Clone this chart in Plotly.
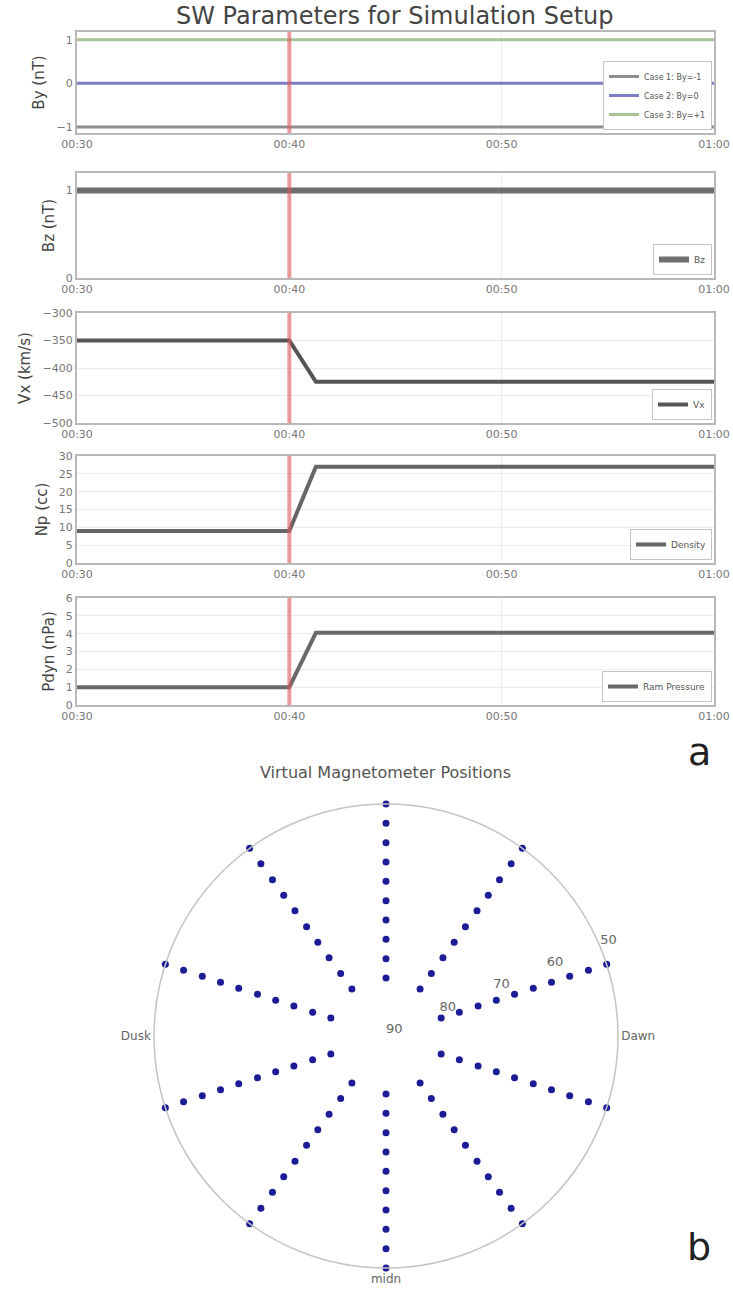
import plotly.graph_objects as go

W, H = 733, 1301

# ---- solar-wind driver (UT) ----
t_nodes = ["2000-01-01 00:30:00", "2000-01-01 00:40:00",
           "2000-01-01 00:41:15", "2000-01-01 01:00:00"]
t_ticks = ["2000-01-01 00:30", "2000-01-01 00:40",
           "2000-01-01 00:50", "2000-01-01 01:00"]
t_shock = "2000-01-01 00:40:00"

by_labels = ["Case 1: By=-1", "Case 2: By=0", "Case 3: By=+1"]
by_values = [-1, 0, 1]
by_colors = ["#8f8f8f", "#7c7cc4", "#a6c496"]
bz_values = [1, 1, 1, 1]
vx_values = [-350, -350, -425, -425]
np_values = [9, 9, 27, 27]
pdyn_values = [1.0, 1.0, 4.05, 4.05]

# ---- virtual magnetometer grid ----
mag_mlt = [7.2, 9.6, 12.0, 14.4, 16.8, 19.2, 21.6, 0.0, 2.4, 4.8]
mag_lat = [50.0, 53.3, 56.7, 60.0, 63.3, 66.7, 70.0, 73.3, 76.7, 80.0]
lat_ticks = [90, 80, 70, 60, 50]


def py(px):
    return 1 - px / H


def px_x(px):
    return px / W


X0, X1 = px_x(77), px_x(714)
panels = [  # (top px, bottom px)
    (32, 133), (173, 278), (313, 423), (456, 563), (598, 705)
]
ytitles = ["By (nT)", "Bz (nT)", "Vx (km/s)", "Np (cc)", "Pdyn (nPa)"]
yranges = [[-1.14, 1.18], [0, 1.2], [-500, -300], [0, 30], [0, 6]]
yticks = [[-1, 0, 1], [0, 1], [-500, -450, -400, -350, -300],
          [0, 5, 10, 15, 20, 25, 30], [0, 1, 2, 3, 4, 5, 6]]

fig = go.Figure()

# By cases
for lab, val, col in zip(by_labels, by_values, by_colors):
    fig.add_trace(go.Scatter(
        x=[t_nodes[0], t_nodes[-1]], y=[val, val], mode="lines",
        line=dict(color=col, width=3), name=lab,
        xaxis="x", yaxis="y", legend="legend"))

series = [(bz_values, "Bz", 6, "#6f6f6f"),
          (vx_values, "Vx", 4, "#555555"),
          (np_values, "Density", 4, "#666666"),
          (pdyn_values, "Ram Pressure", 4, "#6a6a6a")]
for k, (vals, name, w, col) in enumerate(series, start=2):
    fig.add_trace(go.Scatter(
        x=t_nodes, y=vals, mode="lines", name=name,
        line=dict(color=col, width=w),
        xaxis=f"x{k}", yaxis=f"y{k}", legend=f"legend{k}"))

layout = dict(
    width=W, height=H, margin=dict(l=0, r=0, t=0, b=0, autoexpand=False),
    paper_bgcolor="white", plot_bgcolor="white",
    font=dict(family="DejaVu Sans", color="#555"),
    showlegend=True,
)

shapes = []
for i, (top, bot) in enumerate(panels, start=1):
    sx = "" if i == 1 else str(i)
    layout[f"xaxis{sx}"] = dict(
        domain=[X0, X1], anchor=f"y{sx}", type="date", automargin=False,
        range=[t_nodes[0], t_nodes[-1]], tickvals=t_ticks,
        tickformat="%H:%M", showgrid=True, gridcolor="#ececec",
        showline=True, mirror=True, linecolor="#b8b8b8", linewidth=2,
        zeroline=False, ticks="", tickfont=dict(size=11, color="#777"))
    layout[f"yaxis{sx}"] = dict(
        domain=[py(bot), py(top)], anchor=f"x{sx}", automargin=False,
        range=yranges[i - 1], tickvals=yticks[i - 1],
        showgrid=True, gridcolor="#ececec", zeroline=False,
        showline=True, mirror=True, linecolor="#b8b8b8", linewidth=2,
        ticks="", tickfont=dict(size=11, color="#777"),
        title=dict(text=ytitles[i - 1], font=dict(size=15, color="#444"),
                   standoff=8))
    layout[f"legend{sx}"] = dict(
        x=X1 - 2 / W, y=py(bot) + 3 / H, xanchor="right", yanchor="bottom",
        bgcolor="white", bordercolor="#c4c4c4", borderwidth=1,
        font=dict(size=8 if i == 1 else 9, color="#555"),
        itemwidth=30, tracegroupgap=0)
    shapes.append(dict(
        type="line", xref=f"x{sx}", yref=f"y{sx} domain",
        x0=t_shock, x1=t_shock, y0=0, y1=1,
        line=dict(color="rgba(222,90,90,0.6)", width=4), layer="above"))
layout["shapes"] = shapes

# polar plot of the magnetometer stations (radius = colatitude)
theta = [(m - 6.0) * 15.0 for m in mag_mlt for _ in mag_lat]
rad = [90.0 - lat for _ in mag_mlt for lat in mag_lat]
fig.add_trace(go.Scatterpolar(
    r=rad, theta=theta, mode="markers", showlegend=False,
    marker=dict(size=7, color="rgb(28,28,150)"), subplot="polar"))

# latitude labels along the 22.5 degree ray
fig.add_trace(go.Scatterpolar(
    r=[90 - v for v in lat_ticks], theta=[22.5] * len(lat_ticks),
    text=[str(v) for v in lat_ticks], mode="text",
    textposition="top right", cliponaxis=False, showlegend=False,
    textfont=dict(size=13, color="#666"), hoverinfo="skip",
    subplot="polar"))

layout["polar"] = dict(
    domain=dict(x=[px_x(154), px_x(618)], y=[py(1268), py(804)]),
    bgcolor="white",
    radialaxis=dict(range=[0, 40], showticklabels=False,
                    showline=False, showgrid=False, ticks=""),
    angularaxis=dict(rotation=0, direction="counterclockwise",
                     tickmode="array", tickvals=[0, 90, 180, 270],
                     ticktext=["Dawn", "", "Dusk", "midn"],
                     showgrid=False, showline=True, linecolor="#c4c4c4",
                     linewidth=1.5, ticks="",
                     tickfont=dict(size=12, color="#666")),
)

layout["annotations"] = [
    dict(text="SW Parameters for Simulation Setup", x=px_x(395), y=py(16),
         xref="paper", yref="paper", showarrow=False,
         font=dict(size=24, color="#444"), xanchor="center", yanchor="middle"),
    dict(text="Virtual Magnetometer Positions", x=px_x(385), y=py(772),
         xref="paper", yref="paper", showarrow=False,
         font=dict(size=16, color="#555"), xanchor="center", yanchor="middle"),
    dict(text="a", x=px_x(699), y=py(752), xref="paper", yref="paper",
         showarrow=False, font=dict(size=38, color="#222"),
         xanchor="center", yanchor="middle"),
    dict(text="b", x=px_x(699), y=py(1247), xref="paper", yref="paper",
         showarrow=False, font=dict(size=38, color="#222"),
         xanchor="center", yanchor="middle"),
]

fig.update_layout(**layout)
fig.write_html("out.html")
